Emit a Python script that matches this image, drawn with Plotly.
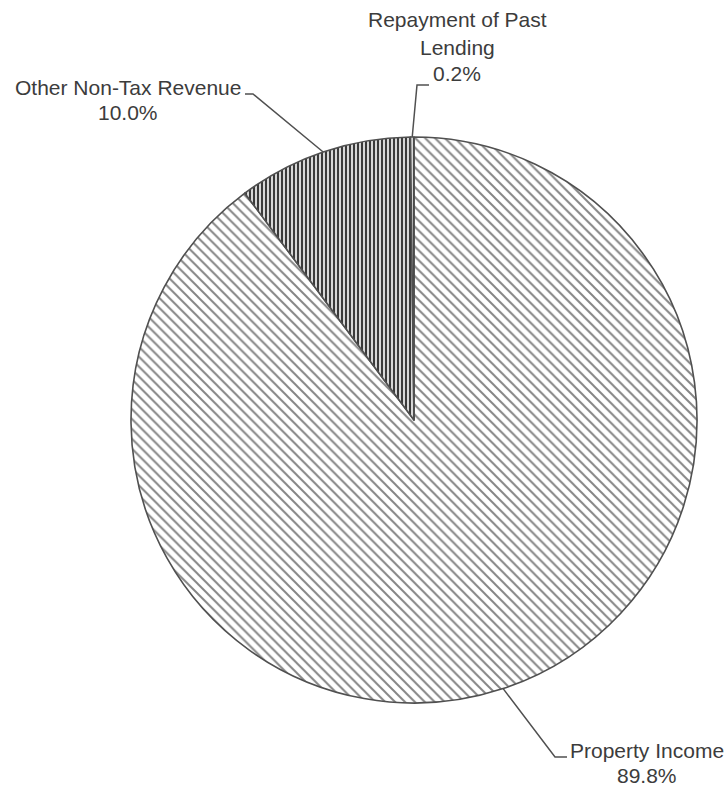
import math
import plotly.graph_objects as go

# ---- data ----
categories = ["Property Income", "Other Non-Tax Revenue", "Repayment of Past Lending"]
shares = [89.8, 10.0, 0.2]
label_lines = [["Property Income", "89.8%"],
               ["Other Non-Tax Revenue", "10.0%"],
               ["Repayment of Past", "Lending", "0.2%"]]

W, H = 728, 787
CX, CY, R = 414, 420, 283  # pie centre / radius in px

def px(x):
    return x / W

def py(y):
    return 1 - y / H

patterns = [
    dict(shape="\\", fgcolor="#858585", bgcolor="white", size=7, solidity=0.28),
    dict(shape="|", fgcolor="#3a3a3a", bgcolor="white", size=4, solidity=0.6),
    dict(shape="|", fgcolor="#3a3a3a", bgcolor="white", size=4, solidity=0.6),
]

fig = go.Figure(go.Pie(
    labels=categories,
    values=shares,
    sort=False,
    direction="clockwise",
    rotation=0,
    textinfo="none",
    hoverinfo="label+percent",
    marker=dict(colors=["white", "white", "white"],
                line=dict(color="#505050", width=1.6),
                pattern=dict(shape=[p["shape"] for p in patterns],
                             fgcolor=[p["fgcolor"] for p in patterns],
                             bgcolor=[p["bgcolor"] for p in patterns],
                             size=[p["size"] for p in patterns],
                             solidity=[p["solidity"] for p in patterns])),
    domain=dict(x=[px(CX - R), px(CX + R)], y=[py(CY + R), py(CY - R)]),
    showlegend=False,
))

# mid-angles of slices (clockwise from 12 o'clock)
total = sum(shares)
mids = []
acc = 0
for v in shares:
    mids.append((acc + v / 2) / total * 2 * math.pi)
    acc += v

def arc_pt(theta):
    return CX + R * math.sin(theta), CY - R * math.cos(theta)

# leader line elbow + end for each label (px)
leaders = [
    [(555, 757), (567, 757)],
    [(253, 94), (245, 94)],
    [(417, 85), (429, 85)],
]

shapes = []
for th, pts in zip(mids, leaders):
    x0, y0 = arc_pt(th)
    path = f"M {px(x0)},{py(y0)} " + " ".join(f"L {px(a)},{py(b)}" for a, b in pts)
    shapes.append(dict(type="path", xref="paper", yref="paper", path=path,
                       line=dict(color="#505050", width=1.5)))

# label text positions (centre x, cap-middle y per line)
label_pos = [
    (647, [750, 775]),
    (128, [87, 112]),
    (457, [20, 47, 74]),
]

annotations = []
for lines, (x, ys) in zip(label_lines, label_pos):
    for t, y in zip(lines, ys):
        annotations.append(dict(text=t, x=px(x), y=py(y), xref="paper", yref="paper",
                                xanchor="center", yanchor="middle", showarrow=False,
                                font=dict(family="Liberation Sans, Arial, sans-serif",
                                          size=21, color="#3c3c3c")))

fig.update_layout(
    width=W, height=H, autosize=False,
    margin=dict(l=0, r=0, t=0, b=0),
    paper_bgcolor="white", plot_bgcolor="white",
    shapes=shapes, annotations=annotations,
)

fig.write_html("out.html", config={"displayModeBar": False},
               post_script="document.body.style.margin='0';")
